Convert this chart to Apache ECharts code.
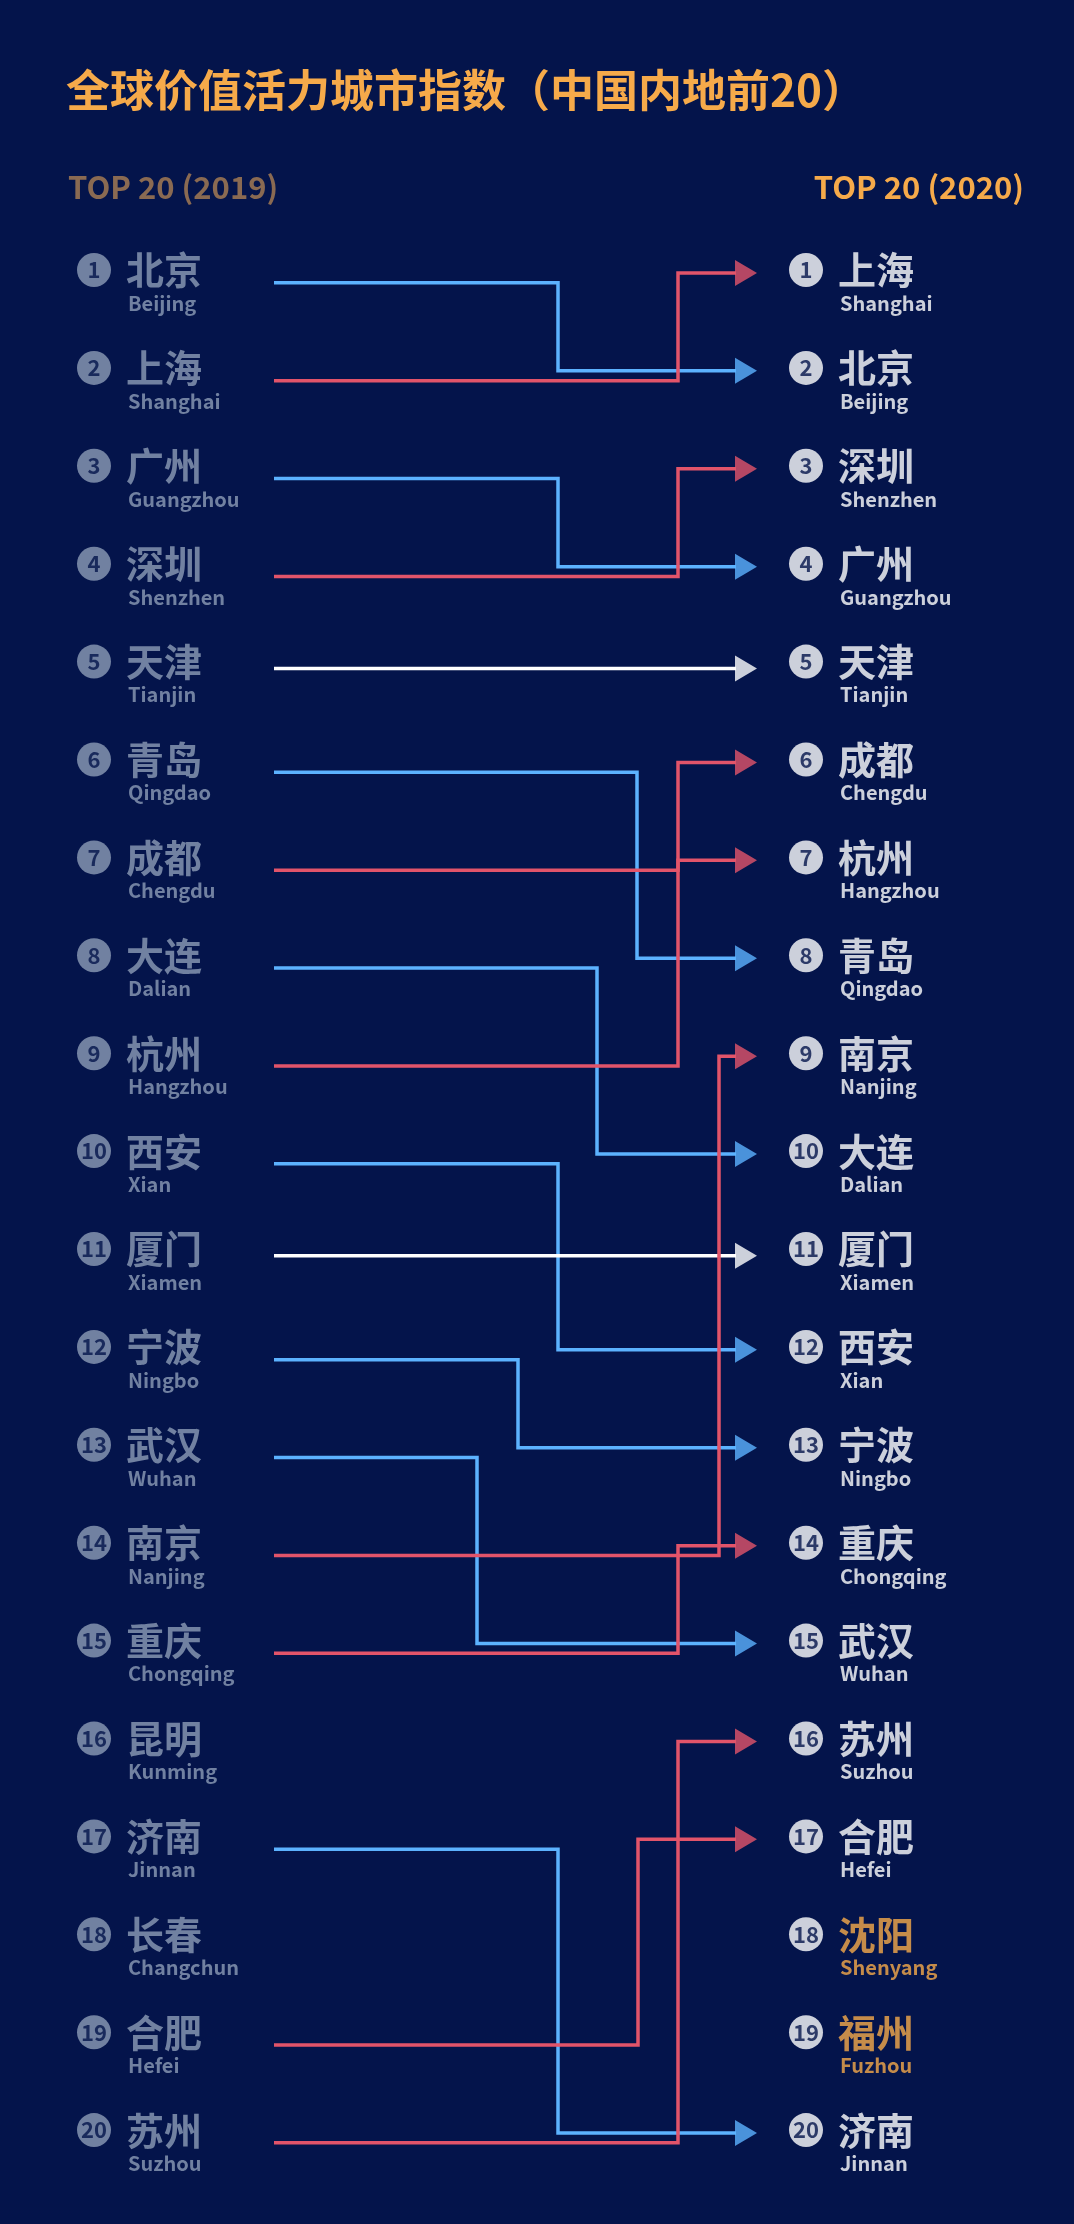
<!DOCTYPE html>
<html><head><meta charset="utf-8">
<script src="https://cdn.jsdelivr.net/npm/echarts@6/dist/echarts.min.js"></script>
<style>html,body{margin:0;padding:0;background:#04144b}#c{width:1074px;height:2224px}</style>
</head><body><div id="c"></div>
<script>
const cn2019 = ['北京','上海','广州','深圳','天津','青岛','成都','大连','杭州','西安','厦门','宁波','武汉','南京','重庆','昆明','济南','长春','合肥','苏州'];
const en2019 = ['Beijing','Shanghai','Guangzhou','Shenzhen','Tianjin','Qingdao','Chengdu','Dalian','Hangzhou','Xian','Xiamen','Ningbo','Wuhan','Nanjing','Chongqing','Kunming','Jinnan','Changchun','Hefei','Suzhou'];
const cn2020 = ['上海','北京','深圳','广州','天津','成都','杭州','青岛','南京','大连','厦门','西安','宁波','重庆','武汉','苏州','合肥','沈阳','福州','济南'];
const en2020 = ['Shanghai','Beijing','Shenzhen','Guangzhou','Tianjin','Chengdu','Hangzhou','Qingdao','Nanjing','Dalian','Xiamen','Xian','Ningbo','Chongqing','Wuhan','Suzhou','Hefei','Shenyang','Fuzhou','Jinnan'];
const newIn2020 = ['沈阳','福州'];
// bend x of each route (layout)
const bendX = {'北京':558,'上海':678,'广州':558,'深圳':678,'青岛':637,'成都':678,'大连':597,'杭州':678,'西安':558,'宁波':518,'武汉':477,'南京':719,'重庆':678,'济南':558,'合肥':638,'苏州':678};

const F = '"Noto Sans CJK SC", sans-serif';
const X0 = 274, X1 = 736, XA = 746;
const blue = '#5cb2ff', red = '#e2546a', white = '#ffffff';
const routes = [], heads = [];
cn2019.forEach((c, i) => {
  const j = cn2020.indexOf(c);
  if (j < 0) return;
  const r1 = i + 1, r2 = j + 1;
  if (r1 === r2) {
    routes.push({coords: [[X0, r1 + 0.07], [X1, r2 + 0.07]], lineStyle: {color: white}});
    heads.push({value: [XA, r2 + 0.07], itemStyle: {color: white}});
  } else {
    const col = r2 < r1 ? red : blue;
    const bx = bendX[c];
    routes.push({coords: [[X0, r1 + 0.13], [bx, r1 + 0.13], [bx, r2 + 0.03], [X1, r2 + 0.03]], lineStyle: {color: col}});
    heads.push({value: [XA, r2 + 0.03], itemStyle: {color: col}});
  }
});

const leftNum = cn2019.map((c, i) => ({value: [94, i + 1], name: String(i + 1)}));
const rightNum = cn2020.map((c, i) => ({value: [806, i + 1], name: String(i + 1)}));
const leftCn = cn2019.map((c, i) => ({value: [126, i + 1], name: c}));
const leftEn = en2019.map((c, i) => ({value: [128, i + 1.34], name: c}));
const rightCn = cn2020.map((c, i) => ({value: [838, i + 1], name: c, label: {color: newIn2020.includes(c) ? '#f6aa4a' : '#fff'}}));
const rightEn = en2020.map((c, i) => ({value: [840, i + 1.34], name: c, label: {color: newIn2020.includes(cn2020[i]) ? '#f6aa4a' : '#fff'}}));

function txt(data, size, color, weight) {
  return {type: 'scatter', data, symbolSize: 0, silent: true, z: 5,
    label: {show: true, position: 'right', distance: 0, formatter: p => p.name, fontFamily: F, fontSize: size, fontWeight: weight, color}};
}
function badge(data, fill) {
  return {type: 'scatter', data, symbol: 'circle', symbolSize: 34, itemStyle: {color: fill}, silent: true, z: 6,
    label: {show: true, position: 'inside', formatter: p => p.name, fontFamily: F, fontSize: 22, color: '#04144b', fontWeight: 'bold', letterSpacing: -2}};
}

const chart = echarts.init(document.getElementById('c'), null, {renderer: 'canvas'});
chart.setOption({
  backgroundColor: '#04144b',
  animation: false,
  grid: {left: 0, right: 0, top: 0, bottom: 0},
  xAxis: {type: 'value', min: 0, max: 1074, show: false},
  yAxis: {type: 'value', inverse: true, min: 1 - 270 / 97.9, max: 1 + 1954 / 97.9, show: false},
  graphic: [
    {type: 'text', left: 66, top: 68, style: {text: '全球价值活力城市指数（中国内地前20）', font: 'bold 44px ' + F, fill: '#f6aa4a'}},
    {type: 'text', left: 68, top: 172, style: {text: 'TOP 20 (2019)', font: 'bold 31px ' + F, fill: '#8a6a52'}},
    {type: 'text', right: 50, top: 172, style: {text: 'TOP 20 (2020)', font: 'bold 31px ' + F, fill: '#f6aa4a'}}
  ],
  series: [
    {type: 'lines', coordinateSystem: 'cartesian2d', polyline: true, data: routes,
      lineStyle: {width: 3.5, opacity: 1}, z: 3},
    {type: 'scatter', data: heads, symbol: 'triangle', symbolRotate: -90, symbolSize: [26, 22], silent: true, z: 4},
    badge(leftNum, '#8d9cb6'), badge(rightNum, '#ffffff'),
    txt(leftCn, 38, '#8d9cb6', 'bold'),
    txt(leftEn, 20, '#8d9cb6', 'bold'),
    txt(rightCn, 38, '#fff', 'bold'),
    txt(rightEn, 20, '#fff', 'bold')
  ]
});
</script></body></html>
